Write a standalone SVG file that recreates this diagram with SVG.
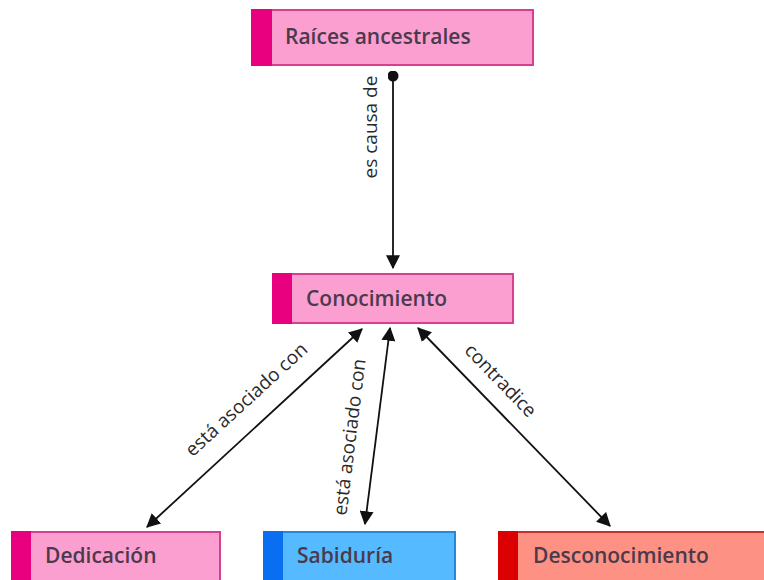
<svg xmlns="http://www.w3.org/2000/svg" width="764" height="580" viewBox="0 0 764 580">
<defs>
<style>
.pink{fill:#fa9fd0;stroke:#d8408f;stroke-width:2}
.pinkbar{fill:#e8007f}
.blue{fill:#55baff;stroke:#2a86d8;stroke-width:2}
.bluebar{fill:#0a6ef0}
.red{fill:#fd9184;stroke:#c8302a;stroke-width:2}
.redbar{fill:#dd0000}
.nt{font-family:"Open Sans","Noto Sans",sans-serif;font-size:21px;font-weight:600;fill:#4a3a4c;dominant-baseline:central}
.lt{font-family:"Open Sans","Noto Sans",sans-serif;font-size:19px;fill:#2a2a2a;text-anchor:middle;dominant-baseline:central}
.ln{stroke:#111;stroke-width:1.8;fill:none}
</style>
<marker id="ah" viewBox="0 0 12 12" refX="11" refY="6" markerWidth="14" markerHeight="14" markerUnits="userSpaceOnUse" orient="auto-start-reverse">
<path d="M0,0 L12,6 L0,12 Z" fill="#111"/>
</marker>
<marker id="dot" viewBox="0 0 12 12" refX="6" refY="6" markerWidth="11" markerHeight="11" markerUnits="userSpaceOnUse">
<circle cx="6" cy="6" r="6" fill="#111"/>
</marker>
</defs>
<rect width="764" height="580" fill="#ffffff"/>
<g id="connectors">
<line class="ln" x1="393" y1="76" x2="393" y2="268" marker-start="url(#dot)" marker-end="url(#ah)"/>
<text class="lt" transform="translate(370,127) rotate(-90)">es causa de</text>
<line class="ln" x1="362" y1="329" x2="147" y2="527" marker-start="url(#ah)" marker-end="url(#ah)"/>
<text class="lt" transform="translate(246,399) rotate(-42.5)">está asociado con</text>
<line class="ln" x1="390" y1="328" x2="365" y2="524" marker-start="url(#ah)" marker-end="url(#ah)"/>
<text class="lt" transform="translate(349,437) rotate(-83)">está asociado con</text>
<line class="ln" x1="418" y1="328" x2="610" y2="526" marker-start="url(#ah)" marker-end="url(#ah)"/>
<text class="lt" transform="translate(501,380) rotate(46)">contradice</text>
</g>
<g id="raices">
<rect class="pink" x="252" y="10" width="281" height="55"/>
<rect class="pinkbar" x="251" y="9" width="21" height="57"/>
<text class="nt" x="285" y="36">Raíces ancestrales</text>
</g>
<g id="conocimiento">
<rect class="pink" x="273" y="274" width="240" height="49"/>
<rect class="pinkbar" x="272" y="273" width="20" height="51"/>
<text class="nt" x="306" y="298">Conocimiento</text>
</g>
<g id="dedicacion">
<rect class="pink" x="12" y="532" width="208" height="60"/>
<rect class="pinkbar" x="11" y="531" width="20" height="62"/>
<text class="nt" x="45" y="555">Dedicación</text>
</g>
<g id="sabiduria">
<rect class="blue" x="264" y="532" width="191" height="60"/>
<rect class="bluebar" x="263" y="531" width="20" height="62"/>
<text class="nt" x="297" y="555">Sabiduría</text>
</g>
<g id="desconocimiento">
<rect class="red" x="499" y="532" width="280" height="60"/>
<rect class="redbar" x="498" y="531" width="20" height="62"/>
<text class="nt" x="533" y="555">Desconocimiento</text>
</g>
</svg>
